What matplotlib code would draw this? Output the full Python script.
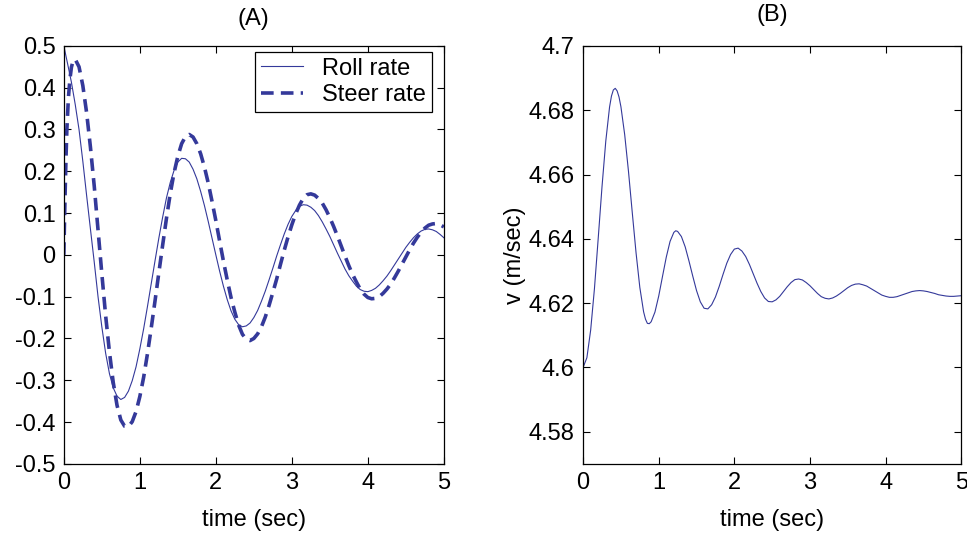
import matplotlib
matplotlib.use("Agg")
import matplotlib.pyplot as plt

plt.rcParams['font.family'] = ['Liberation Sans', 'DejaVu Sans']

# ---- data ----
time_s = [round(0.05 * i, 2) for i in range(101)]

roll_rate = [
    0.500, 0.457, 0.413, 0.360, 0.300, 0.224, 0.142, 0.062, -0.017, -0.100,
    -0.172, -0.235, -0.284, -0.318, -0.338, -0.346, -0.341, -0.326, -0.301, -0.268,
    -0.225, -0.177, -0.124, -0.069, -0.014, 0.040, 0.090, 0.136, 0.173, 0.202,
    0.222, 0.231, 0.230, 0.222, 0.205, 0.182, 0.152, 0.118, 0.080, 0.040,
    0.000, -0.039, -0.075, -0.107, -0.134, -0.154, -0.167, -0.172, -0.170, -0.163,
    -0.150, -0.133, -0.111, -0.087, -0.060, -0.032, -0.003, 0.024, 0.050, 0.073,
    0.092, 0.106, 0.116, 0.120, 0.119, 0.114, 0.106, 0.094, 0.079, 0.062,
    0.044, 0.024, 0.004, -0.015, -0.034, -0.050, -0.063, -0.075, -0.083, -0.087,
    -0.088, -0.085, -0.080, -0.072, -0.062, -0.051, -0.038, -0.024, -0.010, 0.004,
    0.018, 0.030, 0.041, 0.050, 0.057, 0.061, 0.062, 0.060, 0.056, 0.049,
    0.041,
]

steer_time = [0.0, 0.01, 0.02, 0.03, 0.04, 0.06, 0.08, 0.10, 0.12] + \
    [round(0.15 + 0.05 * i, 2) for i in range(98)]
steer_rate = [
    0.000, 0.090, 0.170, 0.240, 0.300, 0.375, 0.420, 0.449, 0.463,
    0.468, 0.450, 0.405, 0.340, 0.258, 0.165, 0.060, -0.045, -0.145, -0.232,
    -0.305, -0.360, -0.395, -0.410, -0.411, -0.399, -0.375, -0.339, -0.293, -0.237,
    -0.175, -0.110, -0.043, 0.023, 0.087, 0.146, 0.196, 0.236, 0.266, 0.283,
    0.288, 0.282, 0.266, 0.242, 0.210, 0.172, 0.128, 0.082, 0.033, -0.015,
    -0.060, -0.102, -0.137, -0.168, -0.190, -0.202, -0.205, -0.200, -0.189, -0.172,
    -0.149, -0.121, -0.090, -0.058, -0.023, 0.011, 0.043, 0.072, 0.098, 0.119,
    0.135, 0.144, 0.146, 0.143, 0.135, 0.124, 0.108, 0.089, 0.068, 0.045,
    0.021, -0.003, -0.026, -0.047, -0.065, -0.082, -0.094, -0.102, -0.105, -0.104,
    -0.100, -0.092, -0.082, -0.070, -0.055, -0.039, -0.022, -0.005, 0.012, 0.028,
    0.042, 0.054, 0.064, 0.071, 0.074, 0.075, 0.072, 0.067,
]

speed = [
    4.6000, 4.6030, 4.6116, 4.6245, 4.6402, 4.6562, 4.6704, 4.6810, 4.6863, 4.6860,
    4.6811, 4.6724, 4.6610, 4.6482, 4.6357, 4.6249, 4.6173, 4.6137, 4.6142, 4.6172,
    4.6222, 4.6283, 4.6343, 4.6392, 4.6420, 4.6423, 4.6407, 4.6375, 4.6331, 4.6284,
    4.6239, 4.6204, 4.6184, 4.6182, 4.6195, 4.6219, 4.6252, 4.6289, 4.6324, 4.6351,
    4.6368, 4.6371, 4.6362, 4.6345, 4.6320, 4.6291, 4.6262, 4.6236, 4.6216, 4.6205,
    4.6204, 4.6210, 4.6221, 4.6236, 4.6251, 4.6264, 4.6273, 4.6275, 4.6272, 4.6264,
    4.6254, 4.6242, 4.6230, 4.6220, 4.6215, 4.6213, 4.6216, 4.6222, 4.6230, 4.6239,
    4.6248, 4.6255, 4.6259, 4.6260, 4.6257, 4.6253, 4.6246, 4.6239, 4.6232, 4.6225,
    4.6221, 4.6218, 4.6218, 4.6220, 4.6224, 4.6228, 4.6232, 4.6236, 4.6238, 4.6239,
    4.6238, 4.6236, 4.6233, 4.6230, 4.6226, 4.6224, 4.6222, 4.6221, 4.6221, 4.6222,
    4.6223,
]
# extra readings around the first peak and trough of the speed trace
speed_extra_time = [0.375, 0.425, 0.475, 0.825, 0.875, 1.225]
speed_extra = [4.6844, 4.6868, 4.6841, 4.6150, 4.6136, 4.6425]

x_ticks = [0, 1, 2, 3, 4, 5]
x_ticklabels = ['0', '1', '2', '3', '4', '5']
a_yticks = [-0.5, -0.4, -0.3, -0.2, -0.1, 0, 0.1, 0.2, 0.3, 0.4, 0.5]
a_yticklabels = ['-0.5', '-0.4', '-0.3', '-0.2', '-0.1', '0', '0.1', '0.2', '0.3', '0.4', '0.5']
b_yticks = [4.58, 4.60, 4.62, 4.64, 4.66, 4.68, 4.70]
b_yticklabels = ['4.58', '4.6', '4.62', '4.64', '4.66', '4.68', '4.7']

line_color = '#34399a'
fs = 17

speed_pts = sorted(zip(time_s + speed_extra_time, speed + speed_extra))
speed_t = [p[0] for p in speed_pts]
speed_v = [p[1] for p in speed_pts]

fig = plt.figure(figsize=(9.67, 5.4), dpi=100)
axA = fig.add_axes([0.066, 0.141, 0.393, 0.774])
axB = fig.add_axes([0.603, 0.141, 0.391, 0.774])


def style(ax):
    ax.tick_params(direction='in', top=True, right=True, length=5, width=0.8,
                   labelsize=fs, pad=6)
    for s in ax.spines.values():
        s.set_linewidth(0.9)
        s.set_color('black')


axA.plot(time_s, roll_rate, color=line_color, lw=0.8, label='Roll rate')
axA.plot(steer_time, steer_rate, color=line_color, lw=2.6,
         linestyle=(0, (3.5, 2.0)), label='Steer rate')
axA.set_xlim(0, 5)
axA.set_ylim(-0.5, 0.5)
axA.set_xticks(x_ticks)
axA.set_xticklabels(x_ticklabels)
axA.set_yticks(a_yticks)
axA.set_yticklabels(a_yticklabels)
axA.set_xlabel('time (sec)', fontsize=fs, labelpad=11)
axA.set_title('(A)', fontsize=fs, pad=15)
style(axA)
leg = axA.legend(loc='upper right', bbox_to_anchor=(0.968, 0.986), fontsize=17,
                 fancybox=False, framealpha=1, edgecolor='black',
                 handlelength=1.8, handletextpad=0.8, borderpad=0.25,
                 labelspacing=0.2, borderaxespad=0.0)
leg.get_frame().set_linewidth(0.9)

axB.plot(speed_t, speed_v, color=line_color, lw=0.8)
axB.set_xlim(0, 5)
axB.set_ylim(4.57, 4.70)
axB.set_xticks(x_ticks)
axB.set_xticklabels(x_ticklabels)
axB.set_yticks(b_yticks)
axB.set_yticklabels(b_yticklabels)
axB.set_xlabel('time (sec)', fontsize=fs, labelpad=11)
axB.set_ylabel('v (m/sec)', fontsize=fs, labelpad=2)
axB.set_title('(B)', fontsize=fs, pad=18)
style(axB)

fig.savefig('out.png', dpi=100)
